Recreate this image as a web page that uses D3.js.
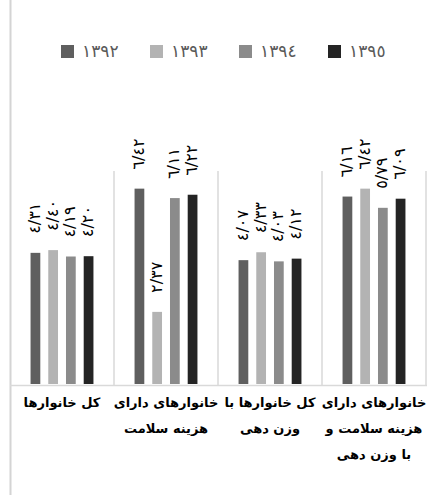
<!DOCTYPE html>
<html>
<head>
<meta charset="utf-8">
<script src="https://cdn.jsdelivr.net/npm/d3@7"></script>
<style>
  body { margin: 0; background: #fff; }
  svg { display: block; font-family: "DejaVu Sans", sans-serif; }
</style>
</head>
<body>
<svg id="chart"></svg>
<script>
/* data (categories left to right) */
const categories = [
  ['کل خانوارها'],
  ['خانوارهای دارای', 'هزینه سلامت'],
  ['کل خانوارها با', 'وزن دهی'],
  ['خانوارهای دارای', 'هزینه سلامت و', 'با وزن دهی']
];
const years = ['١٣٩٢', '١٣٩٣', '١٣٩٤', '١٣٩٥'];
const v1392 = [4.31, 6.42, 4.07, 6.16];
const v1393 = [4.40, 2.37, 4.33, 6.42];
const v1394 = [4.19, 6.11, 4.03, 5.79];
const v1395 = [4.20, 6.22, 4.12, 6.09];
const yTicks = [0, 7];   // value range of the plot

const series = [v1392, v1393, v1394, v1395];
const colors = ['#5f5f5f', '#b3b3b3', '#8b8b8b', '#242424'];

// 4.31 -> ٤/٣١
const faDigits = '٠١٢٣٤٥٦٧٨٩';
const fmt = v => v.toFixed(2).replace('.', '/').replace(/\d/g, d => faDigits[+d]);

/* size */
const W = 427, H = 495;
const plot = { left: 10, right: 426, top: 171, bottom: 384 };

const svg = d3.select('#chart').attr('width', W).attr('height', H);

/* scales */
const x0 = d3.scaleBand()
  .domain(d3.range(categories.length))
  .range([plot.left, plot.right]);

const x1 = d3.scaleBand()
  .domain(d3.range(years.length))
  .range([0, x0.bandwidth()])
  .paddingInner(0.45)
  .paddingOuter(1.16);

const y = d3.scaleLinear()
  .domain(d3.extent(yTicks))
  .range([plot.bottom, plot.top]);

/* chart border on the left */
svg.append('line')
  .attr('x1', 10.5).attr('x2', 10.5)
  .attr('y1', 0).attr('y2', H)
  .attr('stroke', '#d4d4d4').attr('stroke-width', 2);

/* category separators */
svg.append('g')
  .selectAll('line')
  .data(d3.range(1, categories.length + 1))
  .join('line')
    .attr('x1', i => x0(0) + i * x0.step())
    .attr('x2', i => x0(0) + i * x0.step())
    .attr('y1', plot.top)
    .attr('y2', plot.bottom + 1)
    .attr('stroke', '#d9d9d9')
    .attr('stroke-width', 1.5);

/* bars */
const groups = svg.append('g')
  .selectAll('g')
  .data(categories)
  .join('g')
    .attr('transform', (d, i) => `translate(${x0(i)},0)`);

groups.selectAll('rect')
  .data((d, ci) => series.map((s, si) => ({ si, v: s[ci] })))
  .join('rect')
    .attr('x', d => x1(d.si))
    .attr('width', x1.bandwidth())
    .attr('y', d => y(d.v))
    .attr('height', d => y(0) - y(d.v))
    .attr('fill', d => colors[d.si]);

/* rotated value labels */
groups.selectAll('text.val')
  .data((d, ci) => series.map((s, si) => ({ si, v: s[ci] })))
  .join('text')
    .attr('class', 'val')
    .attr('transform', d =>
      `translate(${x1(d.si) + x1.bandwidth() / 2 - 1},${y(d.v) - 19}) rotate(-90)`)
    .attr('dy', '0.35em')
    .attr('text-anchor', 'start')
    .attr('font-size', 16)
    .attr('fill', '#000')
    .text(d => fmt(d.v));

/* x axis line */
svg.append('line')
  .attr('x1', plot.left).attr('x2', W)
  .attr('y1', plot.bottom + 1.5).attr('y2', plot.bottom + 1.5)
  .attr('stroke', '#d9d9d9').attr('stroke-width', 1.5);

/* category labels */
groups.append('text')
  .attr('text-anchor', 'middle')
  .attr('direction', 'rtl')
  .attr('font-size', 13)
  .attr('font-weight', 'bold')
  .attr('fill', '#000')
  .selectAll('tspan')
  .data(d => d)
  .join('tspan')
    .attr('x', x0.bandwidth() / 2)
    .attr('y', (d, i) => 407 + i * 26)
    .text(d => d);

/* legend */
const legend = svg.append('g')
  .selectAll('g')
  .data(years)
  .join('g')
    .attr('transform', (d, i) => `translate(${61 + i * 89},45)`);

legend.append('rect')
  .attr('width', 13).attr('height', 13)
  .attr('fill', (d, i) => colors[i]);

legend.append('text')
  .attr('x', 21).attr('y', 12)
  .attr('font-size', 17)
  .attr('fill', '#595959')
  .text(d => d);
</script>
</body>
</html>
